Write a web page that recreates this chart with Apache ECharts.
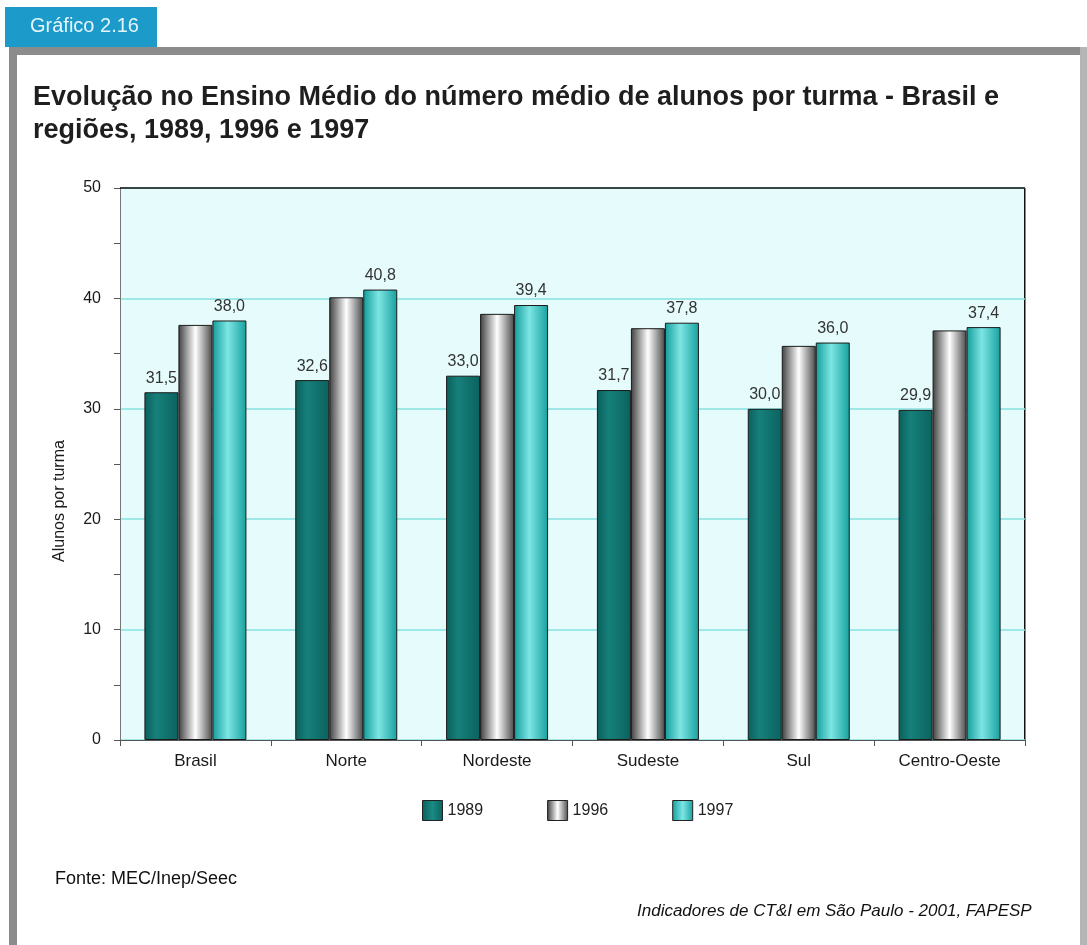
<!DOCTYPE html>
<html><head><meta charset="utf-8">
<script src="https://cdn.jsdelivr.net/npm/echarts@6/dist/echarts.min.js"></script>
<style>html,body{margin:0;padding:0;background:#fff}#c{width:1087px;height:945px}</style>
</head><body><div id="c"></div>
<script>
const categories = ['Brasil','Norte','Nordeste','Sudeste','Sul','Centro-Oeste'];
const years = ['1989','1996','1997'];
const v1989 = [31.5, 32.6, 33.0, 31.7, 30.0, 29.9];
const v1996 = [37.6, 40.1, 38.6, 37.3, 35.7, 37.1];
const v1997 = [38.0, 40.8, 39.4, 37.8, 36.0, 37.4];
const showLabel = [true, false, true];

const G = echarts.graphic.LinearGradient;
const fills = [
  new G(0,0,1,0,[{offset:0,color:'#0a5f5b'},{offset:0.35,color:'#17807b'},{offset:1,color:'#0b625e'}]),
  new G(0,0,1,0,[{offset:0,color:'#3e3e3e'},{offset:0.5,color:'#ffffff'},{offset:1,color:'#4a4a4a'}]),
  new G(0,0,1,0,[{offset:0,color:'#129c9a'},{offset:0.45,color:'#7de6e4'},{offset:1,color:'#17a09e'}])
];
const legendFills = [
  new G(0,0,1,0,[{offset:0,color:'#0a5f5b'},{offset:0.5,color:'#1a8a85'},{offset:1,color:'#0b625e'}]),
  new G(0,0,1,0,[{offset:0,color:'#3e3e3e'},{offset:0.5,color:'#ffffff'},{offset:1,color:'#4a4a4a'}]),
  new G(0,0,1,0,[{offset:0,color:'#129c9a'},{offset:0.5,color:'#7de6e4'},{offset:1,color:'#17a09e'}])
];
const seriesData = [v1989, v1996, v1997];

const chart = echarts.init(document.getElementById('c'));
const font = 'Liberation Sans, Arial, sans-serif';
chart.setOption({
  animation: false,
  textStyle: {fontFamily: font},
  grid: {left: 120, right: 62, top: 188, bottom: 205, show: true, backgroundColor: '#e6fcfc', borderColor: 'transparent'},
  legend: {
    top: 795, left: 417, itemGap: 64, itemWidth: 20, itemHeight: 20,
    textStyle: {fontSize: 16, color: '#222', fontFamily: font},
    data: years.map((y,i)=>({name: y, icon: 'rect', itemStyle: {color: legendFills[i], borderColor: '#222', borderWidth: 1}}))
  },
  xAxis: {
    type: 'category', data: categories,
    axisLine: {lineStyle: {color: '#555'}},
    axisTick: {show: true, length: 6, lineStyle: {color: '#555'}},
    axisLabel: {fontSize: 17, color: '#1a1a1a', margin: 13}
  },
  yAxis: {
    type: 'value', min: 0, max: 50, interval: 10,
    axisLine: {show: true, lineStyle: {color: '#777'}},
    axisTick: {show: true, length: 6, lineStyle: {color: '#555'}},
    minorTick: {show: true, splitNumber: 2, length: 6, lineStyle: {color: '#555'}},
    splitLine: {show: true, lineStyle: {color: '#86e2e2', width: 1.5}},
    axisLabel: {fontSize: 16, color: '#1a1a1a', margin: 19}
  },
  series: years.map((y,i)=>({
    name: y, type: 'bar', barWidth: 34, barGap: '0%',
    data: seriesData[i],
    itemStyle: {color: fills[i], borderColor: '#1a1a1a', borderWidth: 1},
    label: {show: showLabel[i], position: 'top', distance: 6, fontSize: 16, color: '#333',
      formatter: p => p.value.toFixed(1).replace('.', ',')},
    markLine: i === 0 ? {silent: true, symbol: 'none', label: {show: false},
      lineStyle: {color: '#111', type: 'solid', width: 1.5}, data: [{yAxis: 50}]} : undefined
  })),
  graphic: [
    {type: 'rect', left: 5, top: 7, shape: {width: 152, height: 40}, style: {fill: '#1c9bcb'}},
    {type: 'text', left: 30, top: 16, style: {text: 'Gráfico 2.16', fill: '#e4f5fb', font: '20px ' + font}},
    {type: 'rect', left: 9, top: 47, shape: {width: 1078, height: 8}, style: {fill: '#8c8c8c'}},
    {type: 'rect', left: 9, top: 47, shape: {width: 8, height: 898}, style: {fill: '#8c8c8c'}},
    {type: 'rect', left: 1080, top: 47, shape: {width: 7, height: 898}, style: {fill: '#b5b5b5'}},
    {type: 'text', left: 33, top: 81, style: {text: 'Evolução no Ensino Médio do número médio de alunos por turma - Brasil e\nregiões, 1989, 1996 e 1997', fill: '#1e1e1e', font: 'bold 27px ' + font, lineHeight: 33}},
    {type: 'rect', left: 1024, top: 188, shape: {width: 1.5, height: 552}, style: {fill: '#111'}},
    {type: 'text', x: 60, y: 501, rotation: Math.PI / 2, style: {text: 'Alunos por turma', fill: '#1a1a1a', font: '16px ' + font, align: 'center', verticalAlign: 'middle'}},
    {type: 'text', left: 55, top: 870, style: {text: 'Fonte: MEC/Inep/Seec', fill: '#111', font: '18px ' + font}},
    {type: 'text', left: 637, top: 903, style: {text: 'Indicadores de CT&I em São Paulo - 2001, FAPESP', fill: '#111', font: 'italic 17px ' + font}}
  ]
});
</script></body></html>
